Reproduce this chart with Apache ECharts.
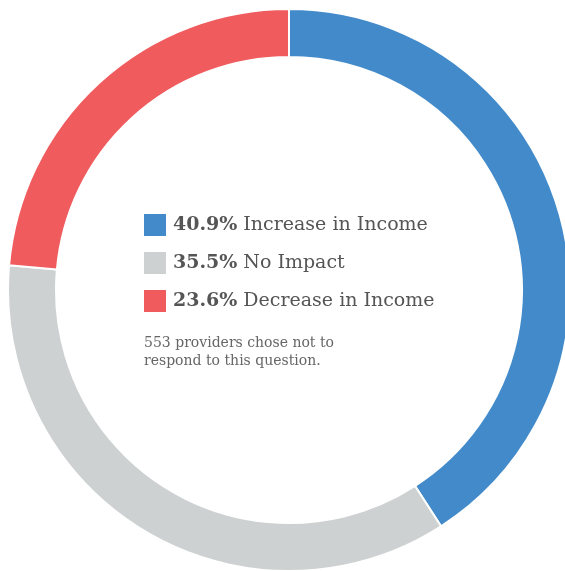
<!DOCTYPE html>
<html><head><meta charset="utf-8">
<script src="https://cdn.jsdelivr.net/npm/echarts@6/dist/echarts.min.js"></script>
<style>html,body{margin:0;padding:0;background:#fff}#c{width:565px;height:571px}</style>
</head><body><div id="c"></div>
<script>
const categories = ['Increase in Income', 'No Impact', 'Decrease in Income'];
const values = [40.9, 35.5, 23.6];
const colors = ['#428aca', '#ced1d2', '#f05b5e'];
const footnote = ['553 providers chose not to', 'respond to this question.'];

const chart = echarts.init(document.getElementById('c'), null, {renderer: 'canvas'});
const font = 'DejaVu Serif';
chart.setOption({
  animation: false,
  legend: {
    orient: 'vertical', left: 144, top: 214, padding: 0,
    itemWidth: 22, itemHeight: 22, itemGap: 16,
    icon: 'rect', selectedMode: false,
    itemStyle: {borderWidth: 0},
    data: categories,
    formatter: function (name) {
      const i = categories.indexOf(name);
      return '{b|' + values[i].toFixed(1) + '%}{s| }{r|' + name + '}';
    },
    textStyle: {
      padding: [0, 0, 0, 2],
      rich: {
        b: {fontFamily: font, fontWeight: 'bold', fontSize: 19, lineHeight: 22, color: '#555'},
        s: {fontFamily: font, fontSize: 19, lineHeight: 22, width: 6},
        r: {fontFamily: font, fontSize: 19, lineHeight: 22, color: '#555'}
      }
    }
  },
  graphic: [{
    type: 'text', left: 144, top: 334,
    style: {text: footnote.join('\n'), fontFamily: font, fontSize: 14, lineHeight: 18, fill: '#666'}
  }],
  series: [{
    type: 'pie', radius: [233, 281], center: [289, 290],
    startAngle: 90, clockwise: true,
    label: {show: false}, labelLine: {show: false},
    itemStyle: {borderColor: '#fff', borderWidth: 2},
    emphasis: {disabled: true},
    data: categories.map((c, i) => ({name: c, value: values[i], itemStyle: {color: colors[i]}}))
  }]
});
</script></body></html>
